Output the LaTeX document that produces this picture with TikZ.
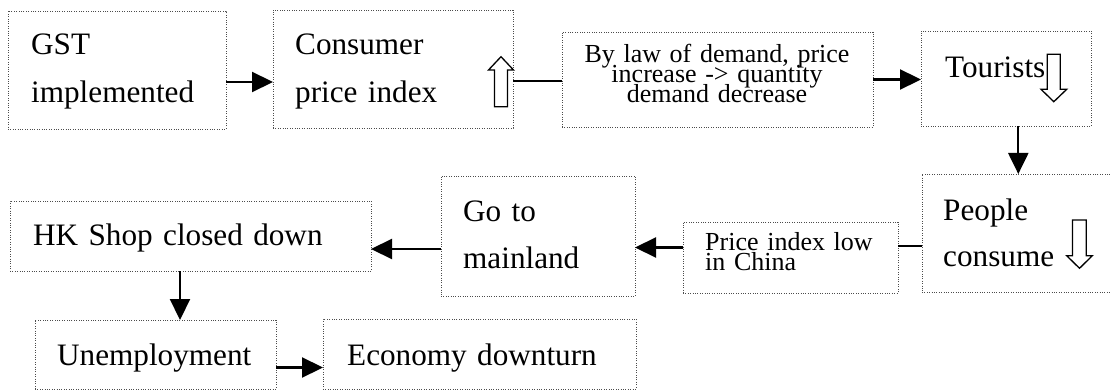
\documentclass[tikz,border=0pt]{standalone}
\usepackage{fontspec}
\setmainfont{Liberation Serif}
\usetikzlibrary{arrows.meta}

\begin{document}
\begin{tikzpicture}[x=1pt,y=-1pt,
  box/.style={draw=black!70, line width=0.9pt, dash pattern=on 1pt off 1.4pt,
    rectangle, inner sep=0pt, outer sep=0pt, anchor=north west},
  bigtext/.style={inner sep=0pt, anchor=base west, align=left, text width=360pt,
    font=\fontsize{31.2}{48}\selectfont},
  smalltext/.style={inner sep=0pt, align=left, text width=300pt,
    font={\fontsize{26}{20}\selectfont\lineskiplimit=-50pt}},
  arr/.style={line width=2.2pt, -{Triangle[length=21pt,width=20pt]}},
  link/.style={line width=2.2pt},
  hollow/.style={draw=black, line width=1.3pt, fill=white, line join=miter}]

\useasboundingbox (0,0) rectangle (1110,390);

% boxes: top-left corner, width and height
\node[box, minimum width=218pt, minimum height=118pt] (gst)      at (8,11)    {};
\node[box, minimum width=240pt, minimum height=118pt] (cpi)      at (273,10)  {};
\node[box, minimum width=311pt, minimum height=95pt]  (bylaw)    at (562,32)  {};
\node[box, minimum width=170pt, minimum height=95pt]  (tourists) at (921,31)  {};
\node[box, minimum width=190pt, minimum height=118pt] (people)   at (922,174) {};
\node[box, minimum width=215pt, minimum height=71pt]  (price)    at (683,222) {};
\node[box, minimum width=194pt, minimum height=120pt] (goto)     at (441,176) {};
\node[box, minimum width=361pt, minimum height=70pt]  (hk)       at (10,201)  {};
\node[box, minimum width=241pt, minimum height=69pt]  (unemp)    at (35,320)  {};
\node[box, minimum width=313pt, minimum height=70pt]  (econ)     at (323,319) {};

% texts, placed at the baseline of their first line
\node[bigtext] (gst-t)      at (31,55)    {GST\\implemented};
\node[bigtext] (cpi-t)      at (295,55)   {Consumer\\price index};
\node[smalltext, align=center, anchor=base] (bylaw-t) at (717,63)
  {By law of demand, price\\increase -> quantity\\demand decrease};
\node[bigtext] (tourists-t) at (945,77.7) {Tourists};
\node[bigtext, font=\fontsize{31.2}{46}\selectfont] (people-t) at (943,220) {People\\consume};
\node[smalltext, anchor=base west] (price-t) at (705,250) {Price index low\\in China};
\node[bigtext, font=\fontsize{31.2}{46.5}\selectfont] (goto-t) at (463,221.7) {Go to\\mainland};
\node[bigtext] (hk-t)       at (33,245)   {HK Shop closed down};
\node[bigtext] (unemp-t)    at (57,365)   {Unemployment};
\node[bigtext] (econ-t)     at (347,365)  {Economy downturn};

% hollow block arrows showing rises and falls
\draw[hollow] (494.5,106.7) -- (494.5,70) -- (488.5,70) -- (501,56.7)
  -- (513.5,70) -- (507.5,70) -- (507.5,106.7) -- cycle;
\draw[hollow] (1047.3,54.3) -- (1047.3,89.3) -- (1041,89.3) -- (1053.8,101.7)
  -- (1066.7,89.3) -- (1060.3,89.3) -- (1060.3,54.3) -- cycle;
\draw[hollow] (1072.5,220) -- (1072.5,255.7) -- (1066.7,255.7) -- (1079.5,268.3)
  -- (1092.3,255.7) -- (1086.3,255.7) -- (1086.3,220) -- cycle;

% levels of the connectors
\coordinate (ya) at (0,82);
\coordinate (yb) at (0,81);
\coordinate (yc) at (0,79.5);
\coordinate (xd) at (1018.3,0);
\coordinate (ye) at (0,246);
\coordinate (yf) at (0,247.5);
\coordinate (yg) at (0,249);
\coordinate (xh) at (180,0);
\coordinate (yi) at (0,367.5);

\draw[arr]  (gst.east |- ya) -- (cpi.west |- ya);
\draw[link] (cpi.east |- yb) -- (bylaw.west |- yb);
\draw[arr]  (bylaw.east |- yc) -- (tourists.west |- yc);
\draw[arr]  (tourists.south -| xd) -- (people.north -| xd);
\draw[link] (people.west |- ye) -- (price.east |- ye);
\draw[arr]  (price.west |- yf) -- (goto.east |- yf);
\draw[arr]  (goto.west |- yg) -- (hk.east |- yg);
\draw[arr]  (hk.south -| xh) -- (unemp.north -| xh);
\draw[arr]  (unemp.east |- yi) -- (econ.west |- yi);
\end{tikzpicture}
\end{document}
